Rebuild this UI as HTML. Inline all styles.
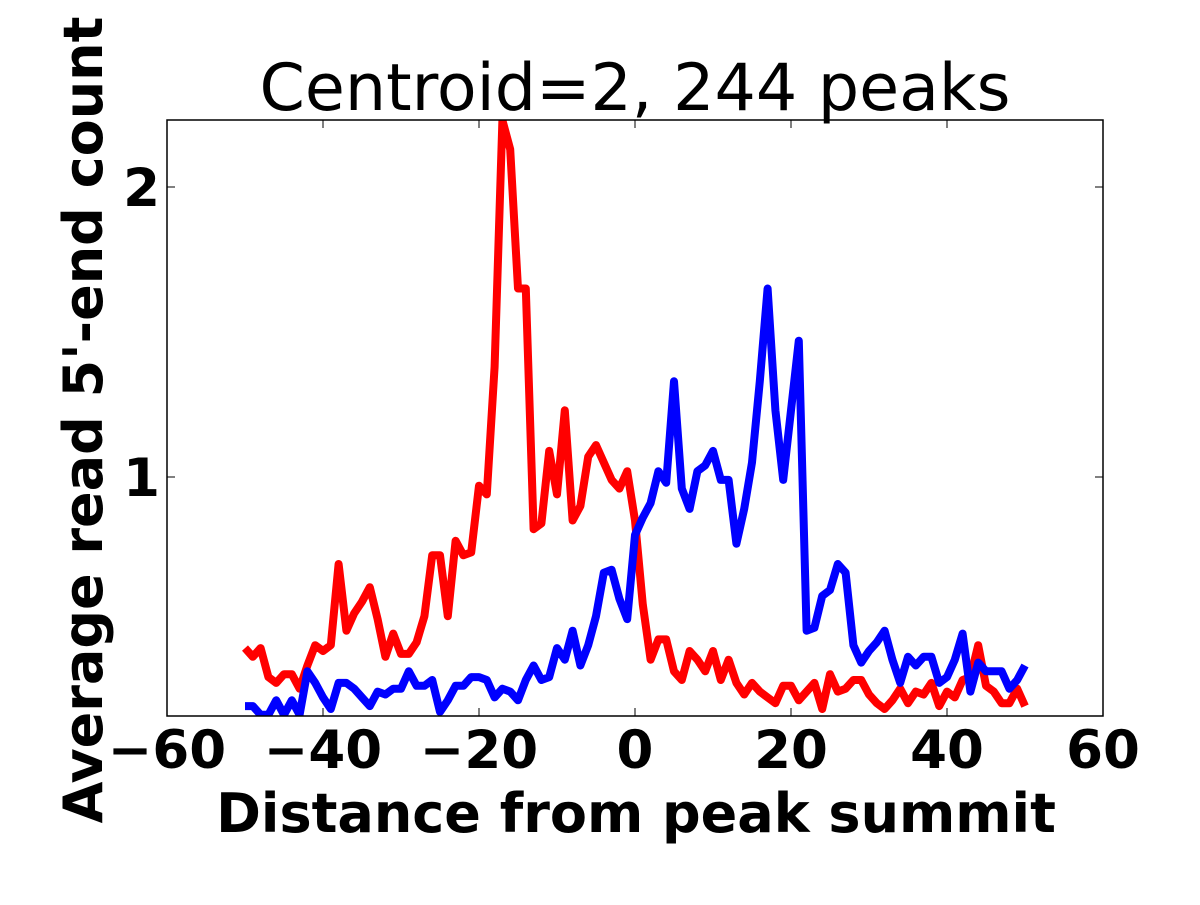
<!DOCTYPE html>
<html><head><meta charset="utf-8"><style>
html,body{margin:0;padding:0;background:#fff;}
svg text{font-family:"DejaVu Sans","Liberation Sans",sans-serif;}
</style></head><body>
<svg width="1200" height="900" viewBox="0 0 1200 900" xmlns="http://www.w3.org/2000/svg">
<defs><clipPath id="pc"><rect x="167" y="120" width="936" height="596"/></clipPath></defs>
<g id="marks" clip-path="url(#pc)"></g>
<rect x="167" y="120" width="936" height="596" fill="none" stroke="#000" stroke-width="1.5"/>
<g id="ticks"></g>
<text x="635" y="110" font-size="65" text-anchor="middle">Centroid=2, 244 peaks</text>
<text x="636" y="832" font-size="54" font-weight="bold" text-anchor="middle">Distance from peak summit</text>
<text transform="translate(102,420) rotate(-90)" font-size="54" font-weight="bold" text-anchor="middle">Average read 5'-end count</text>
</svg>
<script>
const xTicks=[-60,-40,-20,0,20,40,60];
const yTicks=[1,2];
const red=[0.41,0.38,0.41,0.31,0.29,0.32,0.32,0.27,0.35,0.42,0.40,0.42,0.70,0.47,0.53,0.57,0.62,0.51,0.38,0.46,0.39,0.39,0.43,0.52,0.73,0.73,0.52,0.78,0.73,0.74,0.97,0.94,1.38,2.23,2.13,1.65,1.65,0.82,0.84,1.09,0.94,1.23,0.85,0.90,1.07,1.11,1.05,0.99,0.96,1.02,0.85,0.56,0.37,0.44,0.44,0.33,0.30,0.40,0.37,0.33,0.40,0.30,0.37,0.29,0.25,0.29,0.26,0.24,0.22,0.28,0.28,0.23,0.26,0.29,0.20,0.32,0.26,0.27,0.30,0.30,0.25,0.22,0.20,0.23,0.27,0.22,0.26,0.25,0.29,0.21,0.26,0.24,0.30,0.31,0.42,0.28,0.26,0.22,0.22,0.27,0.21];
const blue=[0.21,0.21,0.18,0.18,0.23,0.18,0.23,0.18,0.33,0.29,0.24,0.20,0.29,0.29,0.27,0.24,0.21,0.26,0.25,0.27,0.27,0.33,0.28,0.28,0.30,0.19,0.23,0.28,0.28,0.31,0.31,0.30,0.24,0.27,0.26,0.23,0.30,0.35,0.30,0.31,0.41,0.37,0.47,0.35,0.42,0.52,0.67,0.68,0.58,0.51,0.80,0.86,0.91,1.02,0.98,1.33,0.96,0.89,1.02,1.04,1.09,0.99,0.99,0.77,0.89,1.05,1.33,1.65,1.23,0.99,1.23,1.47,0.47,0.48,0.59,0.61,0.70,0.67,0.42,0.36,0.40,0.43,0.47,0.37,0.29,0.38,0.35,0.38,0.38,0.29,0.31,0.37,0.46,0.26,0.36,0.33,0.33,0.33,0.27,0.30,0.35];
const xStart=-50;
const NS="http://www.w3.org/2000/svg";
function sx(v){return 635+v*7.8;}
function sy(v){return 767-v*290;}
const marks=document.getElementById('marks'), ticks=document.getElementById('ticks');
function line(data,color,name){
  const p=document.createElementNS(NS,'polyline');
  p.setAttribute('points',data.map((v,i)=>sx(xStart+i)+','+sy(v)).join(' '));
  p.setAttribute('fill','none');p.setAttribute('stroke',color);p.setAttribute('stroke-width','8');p.setAttribute('stroke-linejoin','round');
  
  
  marks.appendChild(p);
}
line(red,'#ff0000','red-series-line');
line(blue,'#0000ff','blue-series-line');
xTicks.forEach(t=>{
  const x=sx(t);
  [[716,708],[120,128]].forEach(a=>{const l=document.createElementNS(NS,'line');l.setAttribute('x1',x);l.setAttribute('x2',x);l.setAttribute('y1',a[0]);l.setAttribute('y2',a[1]);l.setAttribute('stroke','#000');ticks.appendChild(l);});
  const tx=document.createElementNS(NS,'text');
  tx.setAttribute('x',x);tx.setAttribute('y',768);tx.setAttribute('text-anchor','middle');tx.setAttribute('font-size','53');tx.setAttribute('font-weight','bold');
  tx.textContent=(t<0?'\u2212'+(-t):t);
  
  
  ticks.appendChild(tx);
});
yTicks.forEach(t=>{
  const y=sy(t);
  [[167,175],[1103,1095]].forEach(a=>{const l=document.createElementNS(NS,'line');l.setAttribute('x1',a[0]);l.setAttribute('x2',a[1]);l.setAttribute('y1',y);l.setAttribute('y2',y);l.setAttribute('stroke','#000');ticks.appendChild(l);});
  const tx=document.createElementNS(NS,'text');
  tx.setAttribute('x',160);tx.setAttribute('y',y+19);tx.setAttribute('text-anchor','end');tx.setAttribute('font-size','53');tx.setAttribute('font-weight','bold');
  tx.textContent=t;
  
  
  ticks.appendChild(tx);
});
</script>
</body></html>
